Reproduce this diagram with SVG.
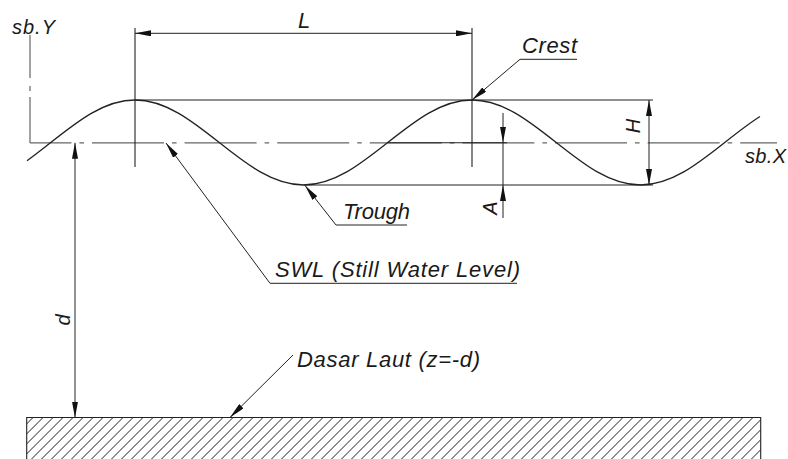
<svg xmlns="http://www.w3.org/2000/svg" width="788" height="459" viewBox="0 0 788 459">
<style>
.ln{fill:none;stroke:#222;stroke-width:1.1}
.wv{fill:none;stroke:#222;stroke-width:1.3}
.ax{fill:none;stroke:#666;stroke-width:1.2}
.dm{fill:none;stroke:#222;stroke-width:1}
.tx{font-family:"Liberation Sans","DejaVu Sans",sans-serif;font-style:italic;fill:#1a1a1a;font-size:22px}
.sm{font-size:20px}
</style>
<defs>
<marker id="arr" viewBox="0 0 16 6" refX="16" refY="3" markerWidth="16" markerHeight="6" markerUnits="userSpaceOnUse" orient="auto-start-reverse">
<path d="M0,0 L16,3 L0,6 z" fill="#111"/>
</marker>
<pattern id="hatch" patternUnits="userSpaceOnUse" width="7.07" height="10" patternTransform="rotate(45)">
<line x1="0" y1="0" x2="0" y2="10" stroke="#111" stroke-width="1.4"/>
</pattern>
</defs>
<rect width="788" height="459" fill="#fff"/>

<g id="axes">
<line class="ax" x1="30" y1="143" x2="30" y2="35" stroke-dasharray="46 6 5 8 60"/>
<line class="ax" x1="30" y1="142.8" x2="777" y2="142.8" stroke-dasharray="72 8 4.6 8" stroke-dashoffset="30.6"/>
</g>

<g id="wave">
<path class="wv" d="M27,160.71 C34.92,155.04 42.83,148.77 50.75,142.5 C78.23,120.73 104.51,100 135,100 C165.49,100 191.77,120.73 219.25,142.5 C246.73,164.27 273.01,185 303.5,185 C333.99,185 360.27,164.27 387.75,142.5 C415.23,120.73 441.51,100 472,100 C502.49,100 528.77,120.73 556.25,142.5 C583.73,164.27 610.01,185 640.5,185 C670.99,185 697.27,164.27 724.75,142.5 C736.5,133.19 748.25,123.88 760,116.5"/>
</g>

<g id="seabed">
<path d="M26.7,462 V417.5 H760.7 V462" fill="url(#hatch)" stroke="#222" stroke-width="1.1"/>
</g>

<g id="connectors">
<line class="ln" x1="135" y1="28" x2="135" y2="167"/>
<line class="ln" x1="472" y1="28" x2="472" y2="167"/>
<line class="ln" x1="135" y1="100" x2="653" y2="100"/>
<line class="ln" x1="303.5" y1="185" x2="653" y2="185"/>
<line class="ln" x1="388" y1="142.8" x2="507" y2="142.8"/>
<line class="dm" x1="135" y1="33.3" x2="472" y2="33.3" marker-start="url(#arr)" marker-end="url(#arr)"/>
<line class="dm" x1="649" y1="100" x2="649" y2="185" marker-start="url(#arr)" marker-end="url(#arr)"/>
<line class="dm" x1="503" y1="113" x2="503" y2="142.8" marker-end="url(#arr)"/>
<line class="dm" x1="503" y1="142.8" x2="503" y2="185"/>
<line class="dm" x1="503" y1="218" x2="503" y2="185" marker-end="url(#arr)"/>
<line class="dm" x1="75" y1="142.8" x2="75" y2="417.5" marker-start="url(#arr)" marker-end="url(#arr)"/>
<polyline class="dm" points="577,59.3 520,59.3 472,100" marker-end="url(#arr)"/>
<polyline class="dm" points="407,225 336,225 305,185.5" marker-end="url(#arr)"/>
<polyline class="dm" points="517,283.3 270,283.3 166,143" marker-end="url(#arr)"/>
<line class="dm" x1="293" y1="355" x2="230" y2="417.5" marker-end="url(#arr)"/>
</g>

<g id="labels">
<text class="tx sm" x="12" y="34" textLength="43" lengthAdjust="spacing">sb.Y</text>
<text class="tx sm" x="745" y="163" textLength="41" lengthAdjust="spacing">sb.X</text>
<text class="tx" x="298" y="28">L</text>
<text class="tx" x="522" y="53" textLength="55" lengthAdjust="spacing">Crest</text>
<text class="tx" x="343" y="219" textLength="67" lengthAdjust="spacing">Trough</text>
<text class="tx" x="275" y="277" textLength="245" lengthAdjust="spacing">SWL (Still Water Level)</text>
<text class="tx" x="297" y="367" textLength="183" lengthAdjust="spacing">Dasar Laut (z=-d)</text>
<text class="tx sm" text-anchor="middle" transform="translate(640,126) rotate(-90)">H</text>
<text class="tx sm" text-anchor="middle" transform="translate(497,208) rotate(-90)">A</text>
<text class="tx sm" text-anchor="middle" transform="translate(70,320) rotate(-90)">d</text>
</g>
</svg>
